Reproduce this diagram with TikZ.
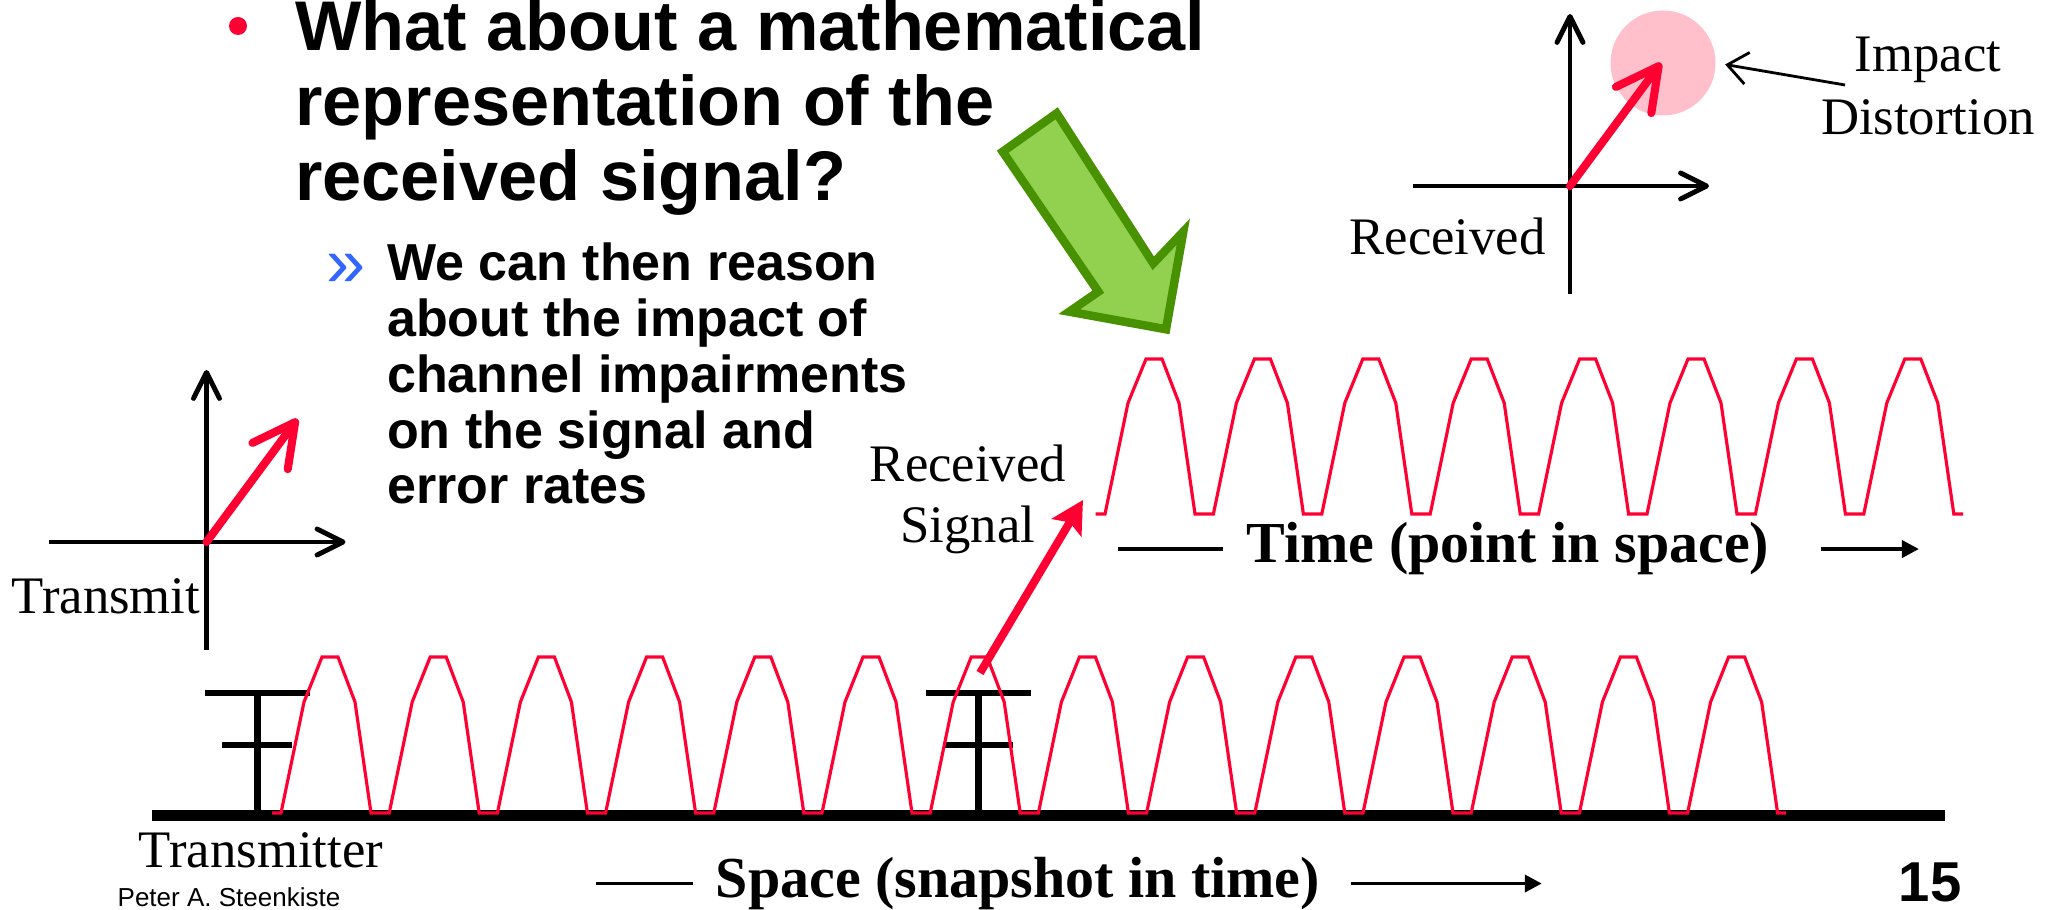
\documentclass[tikz,border=0pt]{standalone}
\usepackage{fontspec}
\setmainfont{Liberation Serif}
\setsansfont{Liberation Sans}
\usetikzlibrary{positioning, arrows.meta}
\definecolor{sigred}{RGB}{255, 0, 51}
\definecolor{blobpink}{RGB}{255, 192, 203}
\definecolor{arrowfill}{RGB}{146, 208, 80}
\definecolor{arrowedge}{RGB}{72, 145, 0}
\definecolor{subblue}{RGB}{51, 102, 255}

\begin{document}
\begin{tikzpicture}[
    headline/.style={anchor=base west, inner sep=0pt, font=\sffamily\bfseries\fontsize{20}{24}\selectfont},
    subpoint/.style={anchor=base west, inner sep=0pt, font=\sffamily\bfseries\fontsize{14.8}{18}\selectfont},
    lbl/.style={anchor=base, inner sep=0pt, font=\fontsize{15}{18}\selectfont},
    boldlbl/.style={anchor=base, inner sep=0pt, font=\bfseries\fontsize{16.5}{20}\selectfont},
    axisline/.style={line width=1.4pt, -{Straight Barb[length=2.6mm, width=2.6mm, round]}},
    phasor/.style={sigred, line width=2.3pt, line cap=round, -{Straight Barb[length=4.2mm, width=4.4mm, round]}},
    wave/.style={sigred, line width=0.9pt},
    mast/.style={line width=1.85pt},
    ground/.style={line width=3pt},
    dirline/.style={line width=1.1pt},
    dirarrow/.style={dirline, -{Triangle[length=1.7mm, width=1.7mm]}},
]
\useasboundingbox (0,0) rectangle (20.49,9.10);

% ======= BULLET TEXT =======
\node[circle, fill=sigred, minimum size=0.18cm, inner sep=0pt] (dot) at (2.38,8.84) {};
\foreach \txt [count=\i] in {What about a mathematical, representation of the, received signal?}
    \node[headline] (head-\i) at (2.946, {8.59-0.75*(\i-1)}) {\txt};

\node[text=subblue, font=\sffamily\fontsize{20}{24}\selectfont, inner sep=0pt] (chev) at (3.46,6.40) {»};
\foreach \txt [count=\i] in {We can then reason, about the impact of, channel impairments, on the signal and, error rates}
    \node[subpoint] (sub-\i) at (3.865, {6.29-0.5575*(\i-1)}) {\txt};

% ======= GREEN ARROW =======
\draw[fill=arrowfill, draw=arrowedge, line width=0.085cm, line join=miter]
    (10.567,7.967) -- (10.027,7.583) -- (10.983,6.183) -- (10.693,5.983)
    -- (11.66,5.807) -- (11.833,6.783) -- (11.533,6.467) -- cycle;

% ======= CONSTELLATIONS =======
\coordinate (tx-o) at (2.065,3.68);
\coordinate (rx-o) at (15.70,7.24);
\node[circle, fill=blobpink, minimum size=1.05cm, inner sep=0pt] (blob) at (16.63,8.47) {};
\foreach \o in {tx-o, rx-o} {
    \draw[axisline] ([xshift=-1.57cm]\o) -- ([xshift=1.39cm]\o);
    \draw[axisline] ([yshift=-1.08cm]\o) -- ([yshift=1.72cm]\o);
    \draw[phasor] (\o) -- ([shift={(0.91,1.23)}]\o);
}
\node[lbl] (transmit) at (1.06,2.96) {Transmit};
\node[lbl] (received) at (14.475,6.55) {Received};

\node[lbl] (impact) at (19.28,8.383) {Impact};
\node[lbl] (distort) at (19.28,7.75) {Distortion};
\coordinate (imp-from) at (18.45,8.25);
\draw[line width=0.8pt, -{Straight Barb[length=2mm, width=3.2mm]}, shorten >=0.9mm] (imp-from) -- (blob.east);

% ======= GROUND AND ANTENNAS =======
\draw[ground] (1.52,0.945) -- (19.45,0.945);
\foreach \m in {2.575, 9.786} {
    \draw[mast] (\m,0.945) -- (\m,2.17);
    \draw[mast] ({\m-0.525},2.17) -- ({\m+0.52},2.17);
    \draw[mast] ({\m-0.355},1.65) -- ({\m+0.345},1.65);
}

% ======= WAVES =======
% space snapshot
\draw[wave] (2.72,0.97)
    \foreach \k [evaluate=\k as \c using 3.30+1.082*\k] in {0,...,13} {
        -- ({\c-0.49},0.97) -- ({\c-0.26},2.08) -- ({\c-0.08},2.53)
        -- ({\c+0.08},2.53) -- ({\c+0.25},2.08) -- ({\c+0.41},0.97)
    } -- (17.86,0.97);
% point in space
\draw[wave] (10.955,3.96)
    \foreach \k [evaluate=\k as \c using 11.54+1.084*\k] in {0,...,7} {
        -- ({\c-0.49},3.96) -- ({\c-0.26},5.07) -- ({\c-0.08},5.51)
        -- ({\c+0.08},5.51) -- ({\c+0.25},5.07) -- ({\c+0.41},3.96)
    } -- (19.63,3.96);

% ======= RECEIVED SIGNAL =======
\node[lbl] (rs-1) at (9.68,4.28) {Received};
\node[lbl] (rs-2) at (9.68,3.67) {Signal};
\coordinate (rs-from) at (9.80,2.37);
\coordinate (rs-tip) at (10.83,4.10);
\draw[sigred, line width=2.3pt, -{Stealth[length=3.2mm, width=3.4mm, inset=0.6mm]}] (rs-from) -- (rs-tip);

% ======= AXIS LABELS =======
\node[boldlbl] (time) at (15.08,3.47) {Time (point in space)};
\draw[dirline] ([xshift=-0.235cm]time.west) -- ++(-1.05,0);
\draw[dirarrow] ([xshift=0.506cm]time.east) -- ++(0.984,0);

\node[boldlbl] (space) at (10.18,0.125) {Space (snapshot in time)};
\draw[dirline] ([xshift=-0.225cm]space.west) -- ++(-0.97,0);
\draw[dirarrow] ([xshift=0.30cm]space.east) -- ++(1.91,0);

\node[lbl] (transmitter) at (2.61,0.42) {Transmitter};
\node[anchor=base, inner sep=0pt, font=\sffamily\fontsize{7.4}{9}\selectfont] (author) at (2.29,0.033) {Peter A. Steenkiste};
\node[anchor=base, inner sep=0pt, font=\sffamily\bfseries\fontsize{16}{19}\selectfont] (page) at (19.30,0.083) {15};

\end{tikzpicture}
\end{document}
